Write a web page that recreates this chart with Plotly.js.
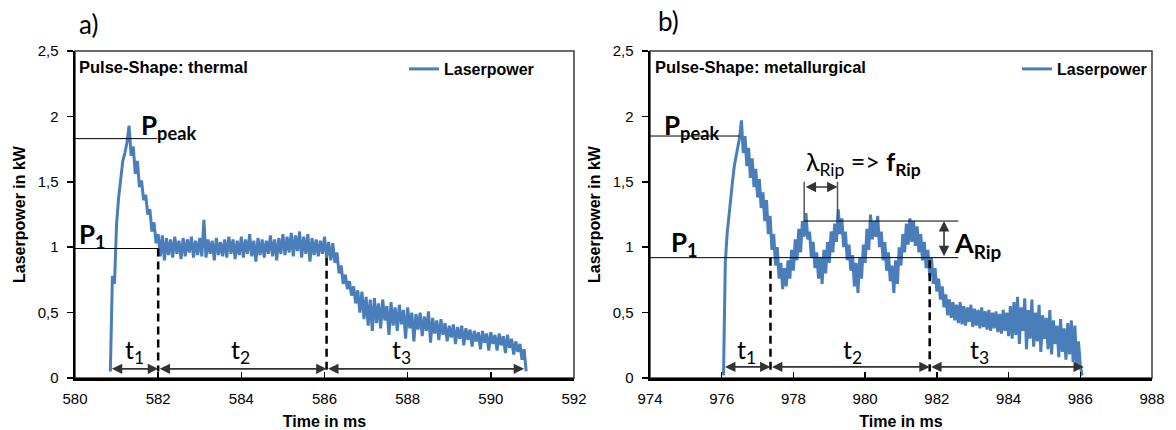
<!DOCTYPE html>
<html><head><meta charset="utf-8">
<script src="https://cdn.plot.ly/plotly-3.0.1.min.js"></script>
<style>html,body{margin:0;padding:0;background:#fff}#chart{width:1176px;height:430px}</style>
</head><body><div id="chart"></div>
<script>
// ---- data ----
const seriesName = 'Laserpower';
const sampleStep = 0.05;            // ms between samples
const startA = 580.85;              // ms, first sample of pulse a)
const startB = 976.05;              // ms, first sample of pulse b)

// Pulse a) thermal, laser power in kW
const powerA = [
  0.05,0.78,0.72,1.18,1.38,1.50,1.66,1.72,1.80,1.93,1.70,1.77,1.56,1.66,1.46,1.51,1.36,1.40,1.25,1.29,
  1.12,1.19,1.03,1.10,0.93,1.09,0.90,1.07,0.94,1.06,0.92,1.08,0.95,1.05,0.91,1.07,0.93,1.06,0.96,1.08,
  0.92,1.05,0.94,1.07,0.93,1.21,0.92,1.06,0.95,1.05,0.90,1.07,0.94,1.04,0.93,1.06,0.92,1.08,0.95,1.06,
  0.91,1.05,0.94,1.08,0.92,1.06,0.95,1.10,0.93,1.05,0.89,1.07,0.94,1.06,0.92,1.05,0.95,1.09,0.93,1.06,
  0.90,1.07,0.95,1.10,0.94,1.08,0.96,1.11,0.93,1.09,0.97,1.12,0.92,1.08,0.95,1.10,0.89,1.07,0.94,1.06,
  0.93,1.05,0.95,1.08,0.92,1.04,0.90,1.03,0.88,0.96,0.80,0.86,0.72,0.79,0.68,0.74,0.63,0.70,0.57,0.67,
  0.50,0.66,0.45,0.62,0.40,0.60,0.36,0.61,0.42,0.57,0.38,0.60,0.44,0.55,0.33,0.58,0.40,0.54,0.36,0.56,
  0.41,0.52,0.30,0.54,0.38,0.50,0.28,0.49,0.37,0.50,0.32,0.47,0.36,0.51,0.27,0.46,0.34,0.44,0.29,0.45,
  0.33,0.42,0.28,0.40,0.31,0.41,0.26,0.39,0.30,0.40,0.25,0.38,0.29,0.37,0.24,0.36,0.28,0.35,0.22,0.36,
  0.27,0.34,0.21,0.35,0.26,0.33,0.21,0.34,0.25,0.32,0.19,0.33,0.23,0.30,0.18,0.28,0.20,0.26,0.14,0.22,
  0.05
];

// Pulse b) metallurgical, laser power in kW
const powerB = [
  0.02,0.88,1.10,1.25,1.36,1.50,1.62,1.70,1.78,1.84,1.97,1.72,1.85,1.62,1.76,1.53,1.68,1.46,1.60,1.38,
  1.52,1.30,1.42,1.20,1.36,1.10,1.24,0.98,1.10,0.86,1.00,0.76,0.88,0.68,0.84,0.70,0.90,0.76,0.98,0.82,
  1.06,0.90,1.14,0.96,1.20,1.08,1.26,1.06,1.12,0.92,1.04,0.84,0.96,0.76,0.92,0.72,0.98,0.80,1.04,0.88,
  1.12,0.96,1.18,1.04,1.29,1.10,1.22,1.00,1.12,0.90,1.02,0.82,0.94,0.70,0.88,0.65,0.92,0.76,1.02,0.88,
  1.14,0.98,1.25,1.06,1.20,1.08,1.24,1.00,1.12,0.90,1.04,0.82,0.96,0.74,0.86,0.65,0.90,0.72,1.00,0.86,
  1.10,0.96,1.18,1.02,1.22,1.04,1.20,1.01,1.16,0.96,1.10,0.90,1.04,0.84,0.98,0.78,0.92,0.72,0.84,0.66,
  0.76,0.60,0.70,0.54,0.64,0.48,0.60,0.46,0.58,0.44,0.56,0.42,0.58,0.41,0.55,0.40,0.54,0.43,0.56,0.39,
  0.53,0.40,0.52,0.38,0.54,0.39,0.51,0.37,0.52,0.36,0.50,0.38,0.51,0.35,0.49,0.34,0.52,0.36,0.50,0.32,
  0.55,0.30,0.58,0.33,0.62,0.26,0.54,0.36,0.61,0.22,0.52,0.30,0.60,0.24,0.50,0.28,0.56,0.20,0.48,0.30,
  0.46,0.22,0.52,0.18,0.44,0.26,0.40,0.16,0.45,0.20,0.38,0.14,0.42,0.18,0.44,0.12,0.40,0.08,0.28,0.10,
  0.02
];

const xTicksA = [580, 582, 584, 586, 588, 590, 592];
const xTicksB = [974, 976, 978, 980, 982, 984, 986, 988];
const yTickVals = [0, 0.5, 1, 1.5, 2, 2.5];
const yTickText = ['0', '0,5', '1', '1,5', '2', '2,5'];

const timeA = powerA.map((_, i) => +(startA + i * sampleStep).toFixed(3));
const timeB = powerB.map((_, i) => +(startB + i * sampleStep).toFixed(3));

// ---- styling ----
const W = 1176, H = 430;
const ARIAL = 'Liberation Sans, Arial, sans-serif';
const CAL = 'Lato, Carlito, Calibri, sans-serif';
const BLUE = '#4a7ebb';
const yDom = [(H - 378) / H, (H - 51) / H];

function xAxis(dom, range, ticks, anchor) {
  return {
    domain: dom, range: range, tickvals: ticks, ticktext: ticks.map(String),
    ticks: 'inside', ticklen: 6, tickwidth: 1.5, tickcolor: '#000',
    showline: true, linewidth: 2.5, linecolor: '#000', mirror: false,
    showgrid: false, zeroline: false, anchor: anchor, fixedrange: true,
    tickfont: {family: ARIAL, size: 15, color: '#000'},
    ticklabelstandoff: 5,
    title: {text: 'Time in ms', font: {family: ARIAL, size: 16, color: '#000', weight: 'bold'}, standoff: 13}
  };
}
function yAxis(anchor) {
  return {
    domain: yDom, range: [0, 2.5], tickvals: yTickVals, ticktext: yTickText,
    ticks: 'outside', ticklen: 6, tickwidth: 1.5, tickcolor: '#000',
    showline: true, linewidth: 2.5, linecolor: '#000', mirror: false,
    showgrid: false, zeroline: false, anchor: anchor, fixedrange: true,
    tickfont: {family: ARIAL, size: 15, color: '#000'},
    ticklabelstandoff: 5,
    title: {text: 'Laserpower in kW', font: {family: ARIAL, size: 16, color: '#000', weight: 'bold'}, standoff: 8}
  };
}

const traces = [
  {x: timeA, y: powerA, type: 'scatter', mode: 'lines', name: seriesName,
   line: {color: BLUE, width: 3}, xaxis: 'x', yaxis: 'y', legend: 'legend'},
  {x: timeB, y: powerB, type: 'scatter', mode: 'lines', name: seriesName,
   line: {color: BLUE, width: 3}, xaxis: 'x2', yaxis: 'y2', legend: 'legend2'}
];

function hline(xr, yr, x0, x1, y, color, width) {
  return {type: 'line', xref: xr, yref: yr, x0: x0, x1: x1, y0: y, y1: y, line: {color: color || '#000', width: width || 1}};
}
function vline(xr, yr, x, y0, y1, dash, color, width) {
  return {type: 'line', xref: xr, yref: yr, x0: x, x1: x, y0: y0, y1: y1,
          line: {color: color || '#000', width: width || 2.5, dash: dash || 'solid'}};
}
function frame(xr, yr) {
  return {type: 'rect', xref: xr + ' domain', yref: yr + ' domain', x0: 0, x1: 1, y0: 0, y1: 1,
          line: {color: '#3a3a3a', width: 1.5}, layer: 'below'};
}

const shapes = [
  frame('x', 'y'), frame('x2', 'y2'),
  // a)
  hline('x', 'y', 580, 581.98, 1.83),
  hline('x', 'y', 580, 582.0, 0.99),
  vline('x', 'y', 582.0, 0.99, 0.05, '8px,5px'),
  vline('x', 'y', 586.05, 0.92, 0.05, '8px,5px'),
  // b)
  hline('x2', 'y2', 974, 976.5, 1.85),
  hline('x2', 'y2', 974, 982.6, 0.92),
  hline('x2', 'y2', 978.28, 982.6, 1.20),
  vline('x2', 'y2', 977.36, 0.92, 0.05, '8px,5px'),
  vline('x2', 'y2', 981.8, 0.90, 0.05, '8px,5px'),
  vline('x2', 'y2', 978.3, 1.20, 1.50, 'solid', '#555', 1.5),
  vline('x2', 'y2', 979.23, 1.20, 1.50, 'solid', '#555', 1.5)
];

function arrow(xr, yr, x0, y0, x1, y1) {
  return {xref: xr, yref: yr, axref: xr, ayref: yr, x: x1, y: y1, ax: x0, ay: y0,
          text: '', showarrow: true, arrowside: 'end+start', arrowhead: 2, arrowsize: 1.3,
          arrowwidth: 1.6, arrowcolor: '#333', standoff: 0, startstandoff: 0};
}
function label(xr, yr, x, y, text, size, xanchor, family) {
  return {xref: xr, yref: yr, x: x, y: y, text: text, showarrow: false,
          xanchor: xanchor || 'center', yanchor: 'middle',
          font: {family: family || CAL, size: size, color: '#000'}};
}

const annotations = [
  // panel letters
  label('paper', 'paper', 88 / W, (H - 24) / H, 'a)', 26),
  label('paper', 'paper', 668 / W, (H - 21) / H, 'b)', 26),
  // pulse-shape captions
  label('paper', 'paper', 77 / W, (H - 67) / H, '<b>Pulse-Shape: thermal</b>', 16.5, 'left', ARIAL),
  label('paper', 'paper', 653 / W, (H - 67) / H, '<b>Pulse-Shape: metallurgical</b>', 16.5, 'left', ARIAL),
  // a) markers
  label('x', 'y', 581.54, 1.92, '<b>P<sub>peak</sub></b>', 26, 'left'),
  label('x', 'y', 580.04, 1.09, '<b>P<sub>1</sub></b>', 26, 'left'),
  label('x', 'y', 581.44, 0.21, 't<sub>1</sub>', 25),
  label('x', 'y', 583.97, 0.21, 't<sub>2</sub>', 25),
  label('x', 'y', 587.84, 0.21, 't<sub>3</sub>', 25),
  arrow('x', 'y', 580.85, 0.07, 582.0, 0.07),
  arrow('x', 'y', 582.0, 0.07, 586.05, 0.07),
  arrow('x', 'y', 586.05, 0.07, 590.8, 0.07),
  // b) markers
  label('x2', 'y2', 974.34, 1.92, '<b>P<sub>peak</sub></b>', 26, 'left'),
  label('x2', 'y2', 974.54, 1.03, '<b>P<sub>1</sub></b>', 26, 'left'),
  label('x2', 'y2', 976.68, 0.21, 't<sub>1</sub>', 25),
  label('x2', 'y2', 979.64, 0.21, 't<sub>2</sub>', 25),
  label('x2', 'y2', 983.19, 0.21, 't<sub>3</sub>', 25),
  label('x2', 'y2', 978.3, 1.64, 'λ<sub>Rip</sub> => <b>f<sub>Rip</sub></b>', 25, 'left'),
  label('x2', 'y2', 982.42, 1.02, '<b>A<sub>Rip</sub></b>', 27, 'left'),
  arrow('x2', 'y2', 976.05, 0.085, 977.36, 0.085),
  arrow('x2', 'y2', 977.36, 0.085, 981.8, 0.085),
  arrow('x2', 'y2', 981.8, 0.085, 986.1, 0.085),
  arrow('x2', 'y2', 978.3, 1.46, 979.23, 1.46),
  arrow('x2', 'y2', 982.2, 0.92, 982.2, 1.20)
];

const legendBase = {
  xanchor: 'right', yanchor: 'top', bgcolor: 'rgba(0,0,0,0)', borderwidth: 0,
  font: {family: ARIAL, size: 16, color: '#000', weight: 'bold'}, itemwidth: 30,
  orientation: 'v', itemclick: false, itemdoubleclick: false
};

const layout = {
  width: W, height: H, margin: {l: 0, r: 0, t: 0, b: 0, autoexpand: false},
  paper_bgcolor: '#fff', plot_bgcolor: '#fff',
  showlegend: true,
  legend: Object.assign({}, legendBase, {x: 539 / W, y: (H - 52) / H}),
  legend2: Object.assign({}, legendBase, {x: 1152 / W, y: (H - 52) / H}),
  xaxis: xAxis([75 / W, 574 / W], [580, 592], xTicksA, 'y'),
  yaxis: yAxis('x'),
  xaxis2: xAxis([650 / W, 1152 / W], [974, 988], xTicksB, 'y2'),
  yaxis2: yAxis('x2'),
  shapes: shapes,
  annotations: annotations
};

Plotly.newPlot('chart', traces, layout, {staticPlot: true, displayModeBar: false});
</script>
</body></html>
